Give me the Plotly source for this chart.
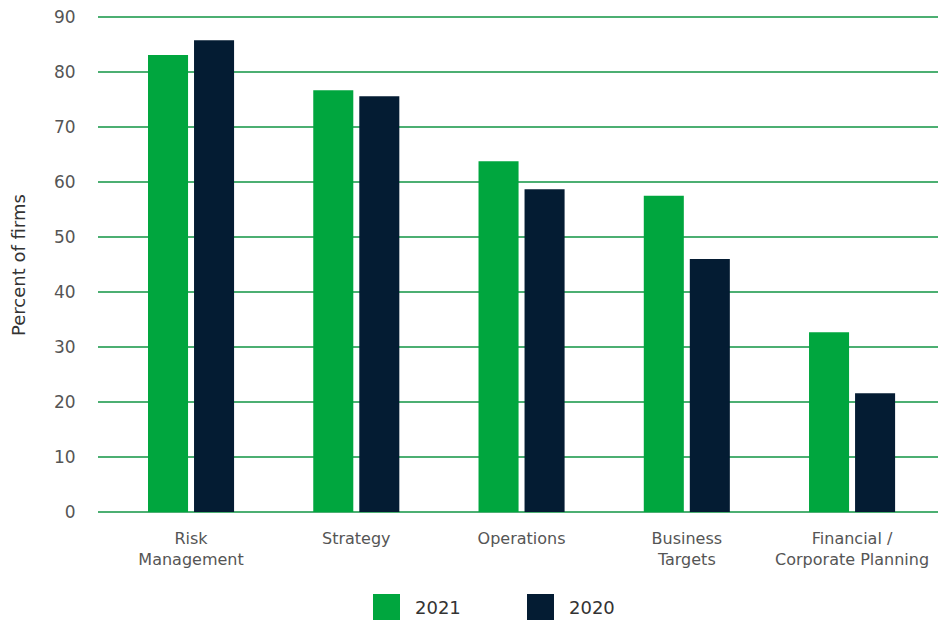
import plotly.graph_objects as go

categories = ["Risk<br>Management", "Strategy", "Operations", "Business<br>Targets", "Financial /<br>Corporate Planning"]
values_2021 = [83.1, 76.7, 63.8, 57.5, 32.7]
values_2020 = [85.8, 75.6, 58.7, 46.0, 21.6]
y_ticks = [0, 10, 20, 30, 40, 50, 60, 70, 80, 90]
series_names = ["2021", "2020"]

GREEN = "#00a63e"
NAVY = "#041c33"
GRID = "#4caf72"
TXT = "#555555"
FONT = "DejaVu Sans, Open Sans, sans-serif"

W, H = 940, 620
ML, MR, MT, MB = 98, 2, 16, 108
PW, PH = W - ML - MR, H - MT - MB

fig = go.Figure()
fig.add_trace(go.Bar(x=categories, y=values_2021, name=series_names[0], marker_color=GREEN,
                     marker_line_width=0, showlegend=False))
fig.add_trace(go.Bar(x=categories, y=values_2020, name=series_names[1], marker_color=NAVY,
                     marker_line_width=0, showlegend=False))

# custom legend (large square swatches), positions in page pixels
legend_items = [(series_names[0], GREEN, 373), (series_names[1], NAVY, 527)]
for name, col, x0 in legend_items:
    fig.add_shape(type="rect", xref="paper", yref="paper",
                  x0=(x0 - ML) / PW, x1=(x0 + 27 - ML) / PW,
                  y0=(H - MB - 620) / PH, y1=(H - MB - 594) / PH,
                  fillcolor=col, line_width=0)
    fig.add_annotation(xref="paper", yref="paper", x=(x0 + 40 - ML) / PW,
                       y=(H - MB - 607) / PH, text=name, showarrow=False,
                       xanchor="left", yanchor="middle",
                       font=dict(family=FONT, size=18, color="#333333"))

fig.add_annotation(xref="paper", yref="paper", x=(18 - ML) / PW,
                   y=(H - MB - 265) / PH, text="Percent of firms", textangle=-90,
                   showarrow=False, xanchor="center", yanchor="middle",
                   font=dict(family=FONT, size=18, color="#333333"))

fig.update_layout(
    width=W, height=H,
    margin=dict(l=ML, r=MR, t=MT, b=MB, autoexpand=False),
    paper_bgcolor="white", plot_bgcolor="white",
    font=dict(family=FONT, size=16, color=TXT),
    barmode="group", bargap=0.443, bargroupgap=0.13,
    showlegend=False,
)
fig.update_xaxes(type="category", range=[-0.563, 4.52], showgrid=False, automargin=False,
                 showline=False, zeroline=False, ticks="outside", ticklen=12,
                 tickcolor="rgba(0,0,0,0)", tickfont=dict(size=16, color=TXT),
                 fixedrange=True)
fig.update_yaxes(range=[0, 90.2], tickvals=y_ticks, showgrid=True, gridcolor=GRID, gridwidth=2,
                 zeroline=True, zerolinecolor=GRID, zerolinewidth=2, showline=False,
                 automargin=False, fixedrange=True,
                 ticks="outside", ticklen=18, tickcolor="rgba(0,0,0,0)",
                 tickfont=dict(size=17, color=TXT))

fig.write_html("out.html", config={"displayModeBar": False},
               post_script="document.body.style.margin='0';")
